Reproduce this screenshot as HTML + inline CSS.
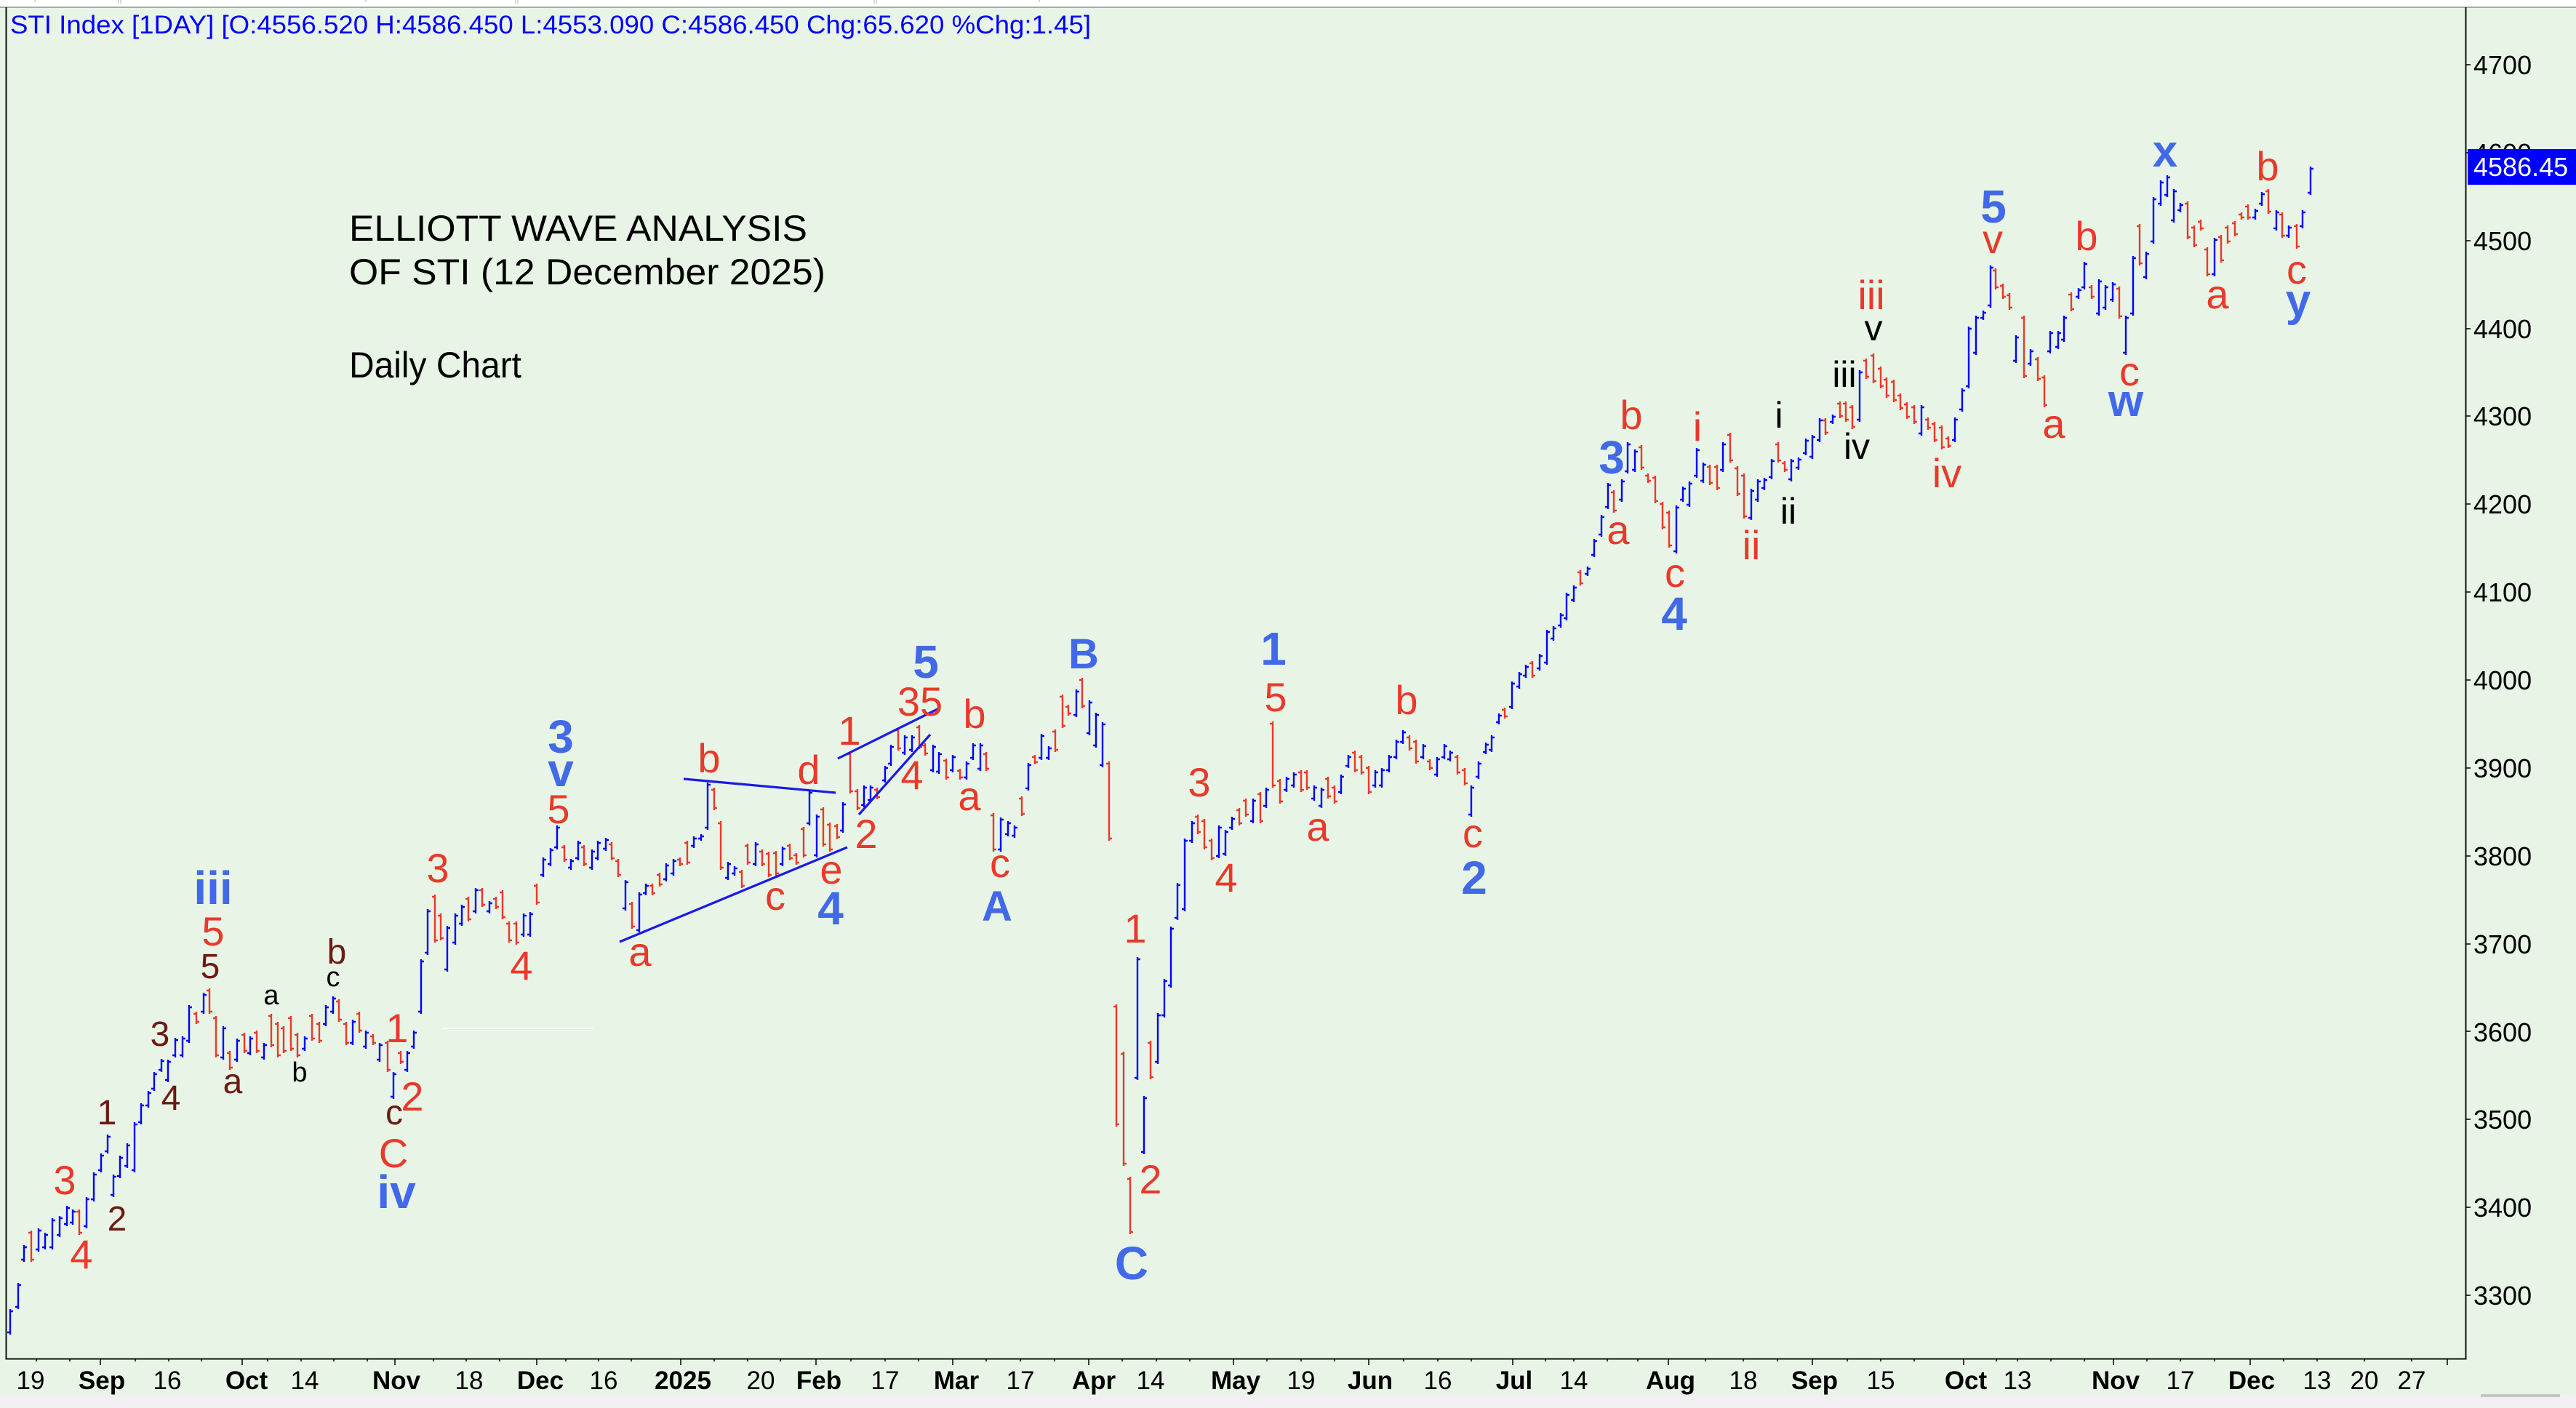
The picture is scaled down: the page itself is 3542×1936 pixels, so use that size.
<!DOCTYPE html>
<html>
<head>
<meta charset="utf-8">
<style>
html,body{margin:0;padding:0;background:#e8f4e6;}
body{width:3542px;height:1936px;overflow:hidden;}
svg{display:block;}
.B{font-weight:bold;font-size:64px;fill:#4169e8;text-anchor:middle;}
.Bs{font-weight:bold;font-size:58px;fill:#4169e8;text-anchor:middle;}
.Bx{font-weight:bold;font-size:62px;fill:#4169e8;text-anchor:middle;}
.R{font-size:56px;fill:#e8392a;text-anchor:middle;}
.Br{font-size:48px;fill:#6d1a12;text-anchor:middle;}
.k{font-size:38px;fill:#000;text-anchor:middle;}
.K{font-size:50px;fill:#000;text-anchor:middle;}
.yl{font-size:36px;fill:#000;}
.xd{font-size:35px;fill:#000;text-anchor:middle;}
.xm{font-size:35px;fill:#000;text-anchor:middle;font-weight:bold;}
</style>
</head>
<body>
<svg width="3542" height="1936" viewBox="0 0 3542 1936" xmlns="http://www.w3.org/2000/svg" font-family="'Liberation Sans', Arial, sans-serif">
<rect width="3542" height="1936" fill="#e8f4e6"/>
<rect width="3542" height="10" fill="#ffffff"/>
<path d="M48 0v3M163 0v5M166 0v5M503 0v3M709 0v5M712 0v5M1202 0v5M1205 0v5M1429 0v3" stroke="#b0b0b0" stroke-width="1"/>
<rect y="1917" width="3542" height="19" fill="#f0f0f0"/>
<rect x="3411" y="1917" width="109" height="4" fill="#c4c4c4"/>
<path d="M0 10H3542" stroke="#909090" stroke-width="1.5"/>
<path d="M8.5 10V1868.5H3390.5V10" fill="none" stroke="#111" stroke-width="2"/>

<!-- right axis ticks -->
<path d="M3390 89h7M3390 210h7M3390 331h7M3390 452h7M3390 572h7M3390 693h7M3390 814h7M3390 935h7M3390 1056h7M3390 1177h7M3390 1298h7M3390 1418h7M3390 1539h7M3390 1660h7M3390 1781h7" stroke="#000" stroke-width="1.5"/>
<g class="yl">
<text class="yl" x="3401" y="102">4700</text>
<text class="yl" x="3401" y="223">4600</text>
<text class="yl" x="3401" y="344">4500</text>
<text class="yl" x="3401" y="465">4400</text>
<text class="yl" x="3401" y="585">4300</text>
<text class="yl" x="3401" y="706">4200</text>
<text class="yl" x="3401" y="827">4100</text>
<text class="yl" x="3401" y="948">4000</text>
<text class="yl" x="3401" y="1069">3900</text>
<text class="yl" x="3401" y="1190">3800</text>
<text class="yl" x="3401" y="1311">3700</text>
<text class="yl" x="3401" y="1432">3600</text>
<text class="yl" x="3401" y="1552">3500</text>
<text class="yl" x="3401" y="1673">3400</text>
<text class="yl" x="3401" y="1794">3300</text>
</g>
<rect x="3393" y="205" width="149" height="49" fill="#0000ff"/>
<text x="3401" y="242" font-size="36" fill="#ffffff">4586.45</text>

<!-- bottom axis ticks -->
<path d="M50 1868v4M96 1868v4M186 1868v4M232 1868v4M277 1868v4M368 1868v4M414 1868v4M459 1868v4M505 1868v4M596 1868v4M641 1868v4M687 1868v4M778 1868v4M823 1868v4M868 1868v4M982 1868v4M1028 1868v4M1073 1868v4M1170 1868v4M1217 1868v4M1263 1868v4M1356 1868v4M1403 1868v4M1450 1868v4M1543 1868v4M1590 1868v4M1636 1868v4M1742 1868v4M1789 1868v4M1835 1868v4M1930 1868v4M1977 1868v4M2023 1868v4M2125 1868v4M2164 1868v4M2210 1868v4M2252 1868v4M2345 1868v4M2397 1868v4M2444 1868v4M2540 1868v4M2586 1868v4M2632 1868v4M2745 1868v4M2774 1868v4M2820 1868v4M2866 1868v4M2952 1868v4M2998 1868v4M3045 1868v4M3140 1868v4M3186 1868v4M3251 1868v4M3316 1868v4" stroke="#000" stroke-width="1.5"/>
<path d="M138 1868v9M333 1868v9M543 1868v9M738 1868v9M936 1868v9M1122 1868v9M1310 1868v9M1497 1868v9M1696 1868v9M1882 1868v9M2080 1868v9M2294 1868v9M2492 1868v9M2700 1868v9M2906 1868v9M3094 1868v9M3365 1868v9" stroke="#000" stroke-width="1.5"/>

<text class="xd" x="42" y="1910">19</text>
<text class="xm" x="140" y="1910">Sep</text>
<text class="xd" x="230" y="1910">16</text>
<text class="xm" x="339" y="1910">Oct</text>
<text class="xd" x="419" y="1910">14</text>
<text class="xm" x="545" y="1910">Nov</text>
<text class="xd" x="645" y="1910">18</text>
<text class="xm" x="743" y="1910">Dec</text>
<text class="xd" x="830" y="1910">16</text>
<text class="xm" x="939" y="1910">2025</text>
<text class="xd" x="1046" y="1910">20</text>
<text class="xm" x="1126" y="1910">Feb</text>
<text class="xd" x="1217" y="1910">17</text>
<text class="xm" x="1315" y="1910">Mar</text>
<text class="xd" x="1403" y="1910">17</text>
<text class="xm" x="1504" y="1910">Apr</text>
<text class="xd" x="1582" y="1910">14</text>
<text class="xm" x="1699" y="1910">May</text>
<text class="xd" x="1789" y="1910">19</text>
<text class="xm" x="1884" y="1910">Jun</text>
<text class="xd" x="1977" y="1910">16</text>
<text class="xm" x="2082" y="1910">Jul</text>
<text class="xd" x="2164" y="1910">14</text>
<text class="xm" x="2297" y="1910">Aug</text>
<text class="xd" x="2397" y="1910">18</text>
<text class="xm" x="2495" y="1910">Sep</text>
<text class="xd" x="2586" y="1910">15</text>
<text class="xm" x="2703" y="1910">Oct</text>
<text class="xd" x="2774" y="1910">13</text>
<text class="xm" x="2909" y="1910">Nov</text>
<text class="xd" x="2998" y="1910">17</text>
<text class="xm" x="3096" y="1910">Dec</text>
<text class="xd" x="3186" y="1910">13</text>
<text class="xd" x="3251" y="1910">20</text>
<text class="xd" x="3316" y="1910">27</text>

<!-- header text -->
<text x="14" y="46" font-size="35" fill="#0000ff" textLength="1486" lengthAdjust="spacingAndGlyphs">STI Index [1DAY] [O:4556.520 H:4586.450 L:4553.090 C:4586.450 Chg:65.620 %Chg:1.45]</text>
<text x="480" y="331" font-size="50" fill="#000" textLength="630" lengthAdjust="spacingAndGlyphs">ELLIOTT WAVE ANALYSIS</text>
<text x="480" y="391" font-size="50" fill="#000" textLength="655" lengthAdjust="spacingAndGlyphs">OF STI (12 December 2025)</text>
<text x="480" y="519" font-size="50" fill="#000" textLength="237" lengthAdjust="spacingAndGlyphs">Daily Chart</text>

<path d="M608 1414H815" stroke="#ffffff" stroke-width="2"/>

<!-- red bars -->
<path fill="none" stroke="#e8392a" stroke-width="2.4" d="M43 1692m-4 3h4m0-3V1735m0-3h4M109 1663m-4 3h4m0-3V1698m0-3h4M270 1391m-4 3h4m0-3V1408m0-3h4M288 1359m-4 3h4m0-3V1394m0-3h4M297 1397m-4 3h4m0-3V1454m0-3h4M316 1445m-4 3h4m0-3V1471m0-3h4M336 1420m-4 3h4m0-3V1448m0-3h4M353 1417m-4 3h4m0-3V1448m0-3h4M373 1394m-4 3h4m0-3V1440m0-3h4M382 1405m-4 3h4m0-3V1454m0-3h4M390 1411m-4 3h4m0-3V1448m0-3h4M400 1397m-4 3h4m0-3V1445m0-3h4M409 1420m-4 3h4m0-3V1454m0-3h4M429 1394m-4 3h4m0-3V1431m0-3h4M439 1405m-4 3h4m0-3V1434m0-3h4M466 1374m-4 3h4m0-3V1405m0-3h4M476 1405m-4 3h4m0-3V1437m0-3h4M494 1391m-4 3h4m0-3V1420m0-3h4M513 1422m-4 3h4m0-3V1437m0-3h4M533 1431m-4 3h4m0-3V1474m0-3h4M551 1445m-4 3h4m0-3V1463m0-3h4M598 1230m-4 3h4m0-3V1296m0-3h4M606 1256m-4 3h4m0-3V1293m0-3h4M644 1233m-4 3h4m0-3V1267m0-3h4M663 1221m-4 3h4m0-3V1247m0-3h4M682 1233m-4 3h4m0-3V1250m0-3h4M691 1224m-4 3h4m0-3V1264m0-3h4M700 1267m-4 3h4m0-3V1296m0-3h4M710 1267m-4 3h4m0-3V1299m0-3h4M738 1215m-4 3h4m0-3V1244m0-3h4M776 1162m-4 3h4m0-3V1185m0-3h4M803 1162m-4 3h4m0-3V1191m0-3h4M841 1158m-4 3h4m0-3V1183m0-3h4M850 1181m-4 3h4m0-3V1206m0-3h4M869 1240m-4 3h4m0-3V1277m0-3h4M897 1215m-4 3h4m0-3V1231m0-3h4M907 1200m-4 3h4m0-3V1219m0-3h4M935 1179m-4 3h4m0-3V1191m0-3h4M945 1156m-4 3h4m0-3V1189m0-3h4M982 1083m-4 3h4m0-3V1114m0-3h4M991 1129m-4 3h4m0-3V1196m0-3h4M1020 1196m-4 3h4m0-3V1221m0-3h4M1028 1160m-4 3h4m0-3V1189m0-3h4M1048 1168m-4 3h4m0-3V1191m0-3h4M1057 1171m-4 3h4m0-3V1206m0-3h4M1067 1170m-4 3h4m0-3V1204m0-3h4M1086 1160m-4 3h4m0-3V1183m0-3h4M1095 1173m-4 3h4m0-3V1189m0-3h4M1105 1137m-4 3h4m0-3V1179m0-3h4M1132 1110m-4 3h4m0-3V1164m0-3h4M1141 1131m-4 3h4m0-3V1171m0-3h4M1151 1133m-4 3h4m0-3V1154m0-3h4M1169 1034m-4 3h4m0-3V1091m0-3h4M1179 1085m-4 3h4m0-3V1114m0-3h4M1206 1083m-4 3h4m0-3V1099m0-3h4M1235 1001m-4 3h4m0-3V1032m0-3h4M1264 997m-4 3h4m0-3V1030m0-3h4M1272 1022m-4 3h4m0-3V1039m0-3h4M1301 1043m-4 3h4m0-3V1072m0-3h4M1320 1057m-4 3h4m0-3V1072m0-3h4M1356 1034m-4 3h4m0-3V1060m0-3h4M1366 1118m-4 3h4m0-3V1171m0-3h4M1405 1095m-4 3h4m0-3V1122m0-3h4M1423 1038m-4 3h4m0-3V1051m0-3h4M1451 1003m-4 3h4m0-3V1034m0-3h4M1461 955m-4 3h4m0-3V1001m0-3h4M1469 969m-4 3h4m0-3V984m0-3h4M1488 932m-4 3h4m0-3V974m0-3h4M1525 1047m-4 3h4m0-3V1156m0-3h4M1535 1381m-4 3h4m0-3V1549m0-3h4M1545 1446m-4 3h4m0-3V1603m0-3h4M1554 1618m-4 3h4m0-3V1697m0-3h4M1582 1431m-4 3h4m0-3V1484m0-3h4M1647 1120m-4 3h4m0-3V1147m0-3h4M1656 1126m-4 3h4m0-3V1168m0-3h4M1666 1153m-4 3h4m0-3V1183m0-3h4M1704 1111m-4 3h4m0-3V1135m0-3h4M1713 1098m-4 3h4m0-3V1123m0-3h4M1733 1089m-4 3h4m0-3V1132m0-3h4M1750 992m-4 3h4m0-3V1083m0-3h4M1760 1071m-4 3h4m0-3V1105m0-3h4M1789 1059m-4 3h4m0-3V1089m0-3h4M1797 1059m-4 3h4m0-3V1086m0-3h4M1826 1068m-4 3h4m0-3V1098m0-3h4M1835 1080m-4 3h4m0-3V1105m0-3h4M1863 1032m-4 3h4m0-3V1062m0-3h4M1872 1038m-4 3h4m0-3V1065m0-3h4M1882 1053m-4 3h4m0-3V1092m0-3h4M1938 1011m-4 3h4m0-3V1032m0-3h4M1947 1017m-4 3h4m0-3V1050m0-3h4M1966 1044m-4 3h4m0-3V1059m0-3h4M2004 1038m-4 3h4m0-3V1065m0-3h4M2014 1056m-4 3h4m0-3V1080m0-3h4M2069 973m-4 3h4m0-3V988m0-3h4M2107 909m-4 3h4m0-3V932m0-3h4M2173 784m-4 3h4m0-3V805m0-3h4M2219 674m-4 3h4m0-3V705m0-3h4M2257 612m-4 3h4m0-3V646m0-3h4M2266 651m-4 3h4m0-3V664m0-3h4M2276 654m-4 3h4m0-3V692m0-3h4M2286 690m-4 3h4m0-3V728m0-3h4M2295 702m-4 3h4m0-3V753m0-3h4M2351 639m-4 3h4m0-3V667m0-3h4M2361 639m-4 3h4m0-3V674m0-3h4M2379 595m-4 3h4m0-3V636m0-3h4M2389 641m-4 3h4m0-3V682m0-3h4M2398 651m-4 3h4m0-3V713m0-3h4M2445 608m-4 3h4m0-3V636m0-3h4M2454 634m-4 3h4m0-3V649m0-3h4M2510 575m-4 3h4m0-3V598m0-3h4M2530 552m-4 3h4m0-3V575m0-3h4M2538 552m-4 3h4m0-3V580m0-3h4M2547 557m-4 3h4m0-3V590m0-3h4M2566 493m-4 3h4m0-3V521m0-3h4M2576 486m-4 3h4m0-3V527m0-3h4M2586 504m-4 3h4m0-3V534m0-3h4M2594 519m-4 3h4m0-3V547m0-3h4M2604 522m-4 3h4m0-3V553m0-3h4M2613 541m-4 3h4m0-3V564m0-3h4M2622 553m-4 3h4m0-3V576m0-3h4M2632 557m-4 3h4m0-3V583m0-3h4M2651 574m-4 3h4m0-3V591m0-3h4M2660 580m-4 3h4m0-3V608m0-3h4M2670 585m-4 3h4m0-3V618m0-3h4M2679 600m-4 3h4m0-3V616m0-3h4M2744 369m-4 3h4m0-3V398m0-3h4M2754 390m-4 3h4m0-3V411m0-3h4M2763 403m-4 3h4m0-3V426m0-3h4M2783 434m-4 3h4m0-3V520m0-3h4M2802 491m-4 3h4m0-3V524m0-3h4M2811 516m-4 3h4m0-3V560m0-3h4M2848 402m-4 3h4m0-3V428m0-3h4M2876 392m-4 3h4m0-3V411m0-3h4M2914 394m-4 3h4m0-3V438m0-3h4M2942 308m-4 3h4m0-3V365m0-3h4M3008 277m-4 3h4m0-3V329m0-3h4M3017 310m-4 3h4m0-3V340m0-3h4M3026 302m-4 3h4m0-3V317m0-3h4M3035 340m-4 3h4m0-3V380m0-3h4M3054 323m-4 3h4m0-3V361m0-3h4M3063 310m-4 3h4m0-3V335m0-3h4M3073 304m-4 3h4m0-3V325m0-3h4M3082 292m-4 3h4m0-3V302m0-3h4M3091 281m-4 3h4m0-3V302m0-3h4M3119 260m-4 3h4m0-3V294m0-3h4M3138 292m-4 3h4m0-3V327m0-3h4M3158 308m-4 3h4m0-3V342m0-3h4"/>

<!-- blue bars -->
<path fill="none" stroke="#0000ff" stroke-width="2.4" d="M14 1835m-4-3h4m0 3V1800m0 3h4M25 1800m-4-3h4m0 3V1764m0 3h4M33 1735m-4-3h4m0 3V1712m0 3h4M53 1721m-4-3h4m0 3V1689m0 3h4M62 1718m-4-3h4m0 3V1695m0 3h4M72 1718m-4-3h4m0 3V1675m0 3h4M82 1701m-4-3h4m0 3V1672m0 3h4M92 1686m-4-3h4m0 3V1658m0 3h4M100 1684m-4-3h4m0 3V1663m0 3h4M119 1689m-4-3h4m0 3V1646m0 3h4M129 1652m-4-3h4m0 3V1612m0 3h4M139 1612m-4-3h4m0 3V1586m0 3h4M148 1586m-4-3h4m0 3V1560m0 3h4M156 1646m-4-3h4m0 3V1615m0 3h4M165 1620m-4-3h4m0 3V1589m0 3h4M175 1606m-4-3h4m0 3V1572m0 3h4M185 1612m-4-3h4m0 3V1543m0 3h4M194 1546m-4-3h4m0 3V1517m0 3h4M204 1523m-4-3h4m0 3V1500m0 3h4M212 1500m-4-3h4m0 3V1474m0 3h4M222 1474m-4-3h4m0 3V1456m0 3h4M231 1488m-4-3h4m0 3V1457m0 3h4M241 1454m-4-3h4m0 3V1427m0 3h4M251 1454m-4-3h4m0 3V1425m0 3h4M260 1434m-4-3h4m0 3V1382m0 3h4M280 1394m-4-3h4m0 3V1365m0 3h4M307 1457m-4-3h4m0 3V1411m0 3h4M326 1460m-4-3h4m0 3V1428m0 3h4M344 1451m-4-3h4m0 3V1425m0 3h4M363 1457m-4-3h4m0 3V1434m0 3h4M419 1445m-4-3h4m0 3V1425m0 3h4M448 1411m-4-3h4m0 3V1382m0 3h4M458 1394m-4-3h4m0 3V1370m0 3h4M485 1437m-4-3h4m0 3V1402m0 3h4M503 1442m-4-3h4m0 3V1417m0 3h4M522 1460m-4-3h4m0 3V1434m0 3h4M541 1511m-4-3h4m0 3V1474m0 3h4M560 1474m-4-3h4m0 3V1445m0 3h4M569 1442m-4-3h4m0 3V1417m0 3h4M579 1394m-4-3h4m0 3V1319m0 3h4M588 1313m-4-3h4m0 3V1250m0 3h4M615 1336m-4-3h4m0 3V1273m0 3h4M626 1299m-4-3h4m0 3V1256m0 3h4M635 1273m-4-3h4m0 3V1244m0 3h4M654 1256m-4-3h4m0 3V1221m0 3h4M673 1256m-4-3h4m0 3V1239m0 3h4M720 1288m-4-3h4m0 3V1256m0 3h4M729 1288m-4-3h4m0 3V1254m0 3h4M747 1206m-4-3h4m0 3V1179m0 3h4M757 1191m-4-3h4m0 3V1166m0 3h4M766 1168m-4-3h4m0 3V1135m0 3h4M785 1196m-4-3h4m0 3V1181m0 3h4M795 1183m-4-3h4m0 3V1156m0 3h4M814 1196m-4-3h4m0 3V1168m0 3h4M822 1183m-4-3h4m0 3V1156m0 3h4M833 1170m-4-3h4m0 3V1152m0 3h4M860 1252m-4-3h4m0 3V1210m0 3h4M879 1282m-4-3h4m0 3V1227m0 3h4M888 1231m-4-3h4m0 3V1215m0 3h4M916 1212m-4-3h4m0 3V1187m0 3h4M926 1204m-4-3h4m0 3V1181m0 3h4M954 1166m-4-3h4m0 3V1150m0 3h4M964 1156m-4-3h4m0 3V1147m0 3h4M973 1141m-4-3h4m0 3V1076m0 3h4M1001 1210m-4-3h4m0 3V1185m0 3h4M1010 1204m-4-3h4m0 3V1191m0 3h4M1039 1191m-4-3h4m0 3V1158m0 3h4M1076 1191m-4-3h4m0 3V1164m0 3h4M1113 1135m-4-3h4m0 3V1087m0 3h4M1123 1179m-4-3h4m0 3V1120m0 3h4M1159 1145m-4-3h4m0 3V1103m0 3h4M1188 1110m-4-3h4m0 3V1080m0 3h4M1197 1103m-4-3h4m0 3V1080m0 3h4M1217 1076m-4-3h4m0 3V1053m0 3h4M1225 1053m-4-3h4m0 3V1024m0 3h4M1244 1038m-4-3h4m0 3V1011m0 3h4M1254 1034m-4-3h4m0 3V1011m0 3h4M1283 1062m-4-3h4m0 3V1024m0 3h4M1291 1064m-4-3h4m0 3V1034m0 3h4M1310 1062m-4-3h4m0 3V1038m0 3h4M1329 1072m-4-3h4m0 3V1047m0 3h4M1338 1045m-4-3h4m0 3V1022m0 3h4M1348 1060m-4-3h4m0 3V1022m0 3h4M1376 1171m-4-3h4m0 3V1124m0 3h4M1386 1150m-4-3h4m0 3V1129m0 3h4M1395 1152m-4-3h4m0 3V1135m0 3h4M1414 1087m-4-3h4m0 3V1049m0 3h4M1432 1045m-4-3h4m0 3V1009m0 3h4M1442 1045m-4-3h4m0 3V1026m0 3h4M1480 986m-4-3h4m0 3V948m0 3h4M1498 1011m-4-3h4m0 3V963m0 3h4M1507 1028m-4-3h4m0 3V980m0 3h4M1516 1055m-4-3h4m0 3V993m0 3h4M1564 1485m-4-3h4m0 3V1316m0 3h4M1573 1587m-4-3h4m0 3V1507m0 3h4M1592 1463m-4-3h4m0 3V1393m0 3h4M1601 1399m-4-3h4m0 3V1346m0 3h4M1610 1358m-4-3h4m0 3V1274m0 3h4M1619 1265m-4-3h4m0 3V1214m0 3h4M1629 1253m-4-3h4m0 3V1153m0 3h4M1639 1159m-4-3h4m0 3V1129m0 3h4M1676 1180m-4-3h4m0 3V1135m0 3h4M1685 1177m-4-3h4m0 3V1141m0 3h4M1694 1141m-4-3h4m0 3V1123m0 3h4M1723 1132m-4-3h4m0 3V1098m0 3h4M1741 1111m-4-3h4m0 3V1083m0 3h4M1769 1089m-4-3h4m0 3V1068m0 3h4M1779 1083m-4-3h4m0 3V1062m0 3h4M1807 1101m-4-3h4m0 3V1080m0 3h4M1817 1111m-4-3h4m0 3V1083m0 3h4M1844 1092m-4-3h4m0 3V1065m0 3h4M1854 1056m-4-3h4m0 3V1038m0 3h4M1891 1083m-4-3h4m0 3V1059m0 3h4M1900 1083m-4-3h4m0 3V1056m0 3h4M1910 1062m-4-3h4m0 3V1038m0 3h4M1920 1044m-4-3h4m0 3V1017m0 3h4M1929 1023m-4-3h4m0 3V1004m0 3h4M1957 1044m-4-3h4m0 3V1023m0 3h4M1976 1068m-4-3h4m0 3V1041m0 3h4M1986 1044m-4-3h4m0 3V1023m0 3h4M1994 1047m-4-3h4m0 3V1032m0 3h4M2023 1123m-4-3h4m0 3V1080m0 3h4M2033 1071m-4-3h4m0 3V1047m0 3h4M2043 1037m-4-3h4m0 3V1021m0 3h4M2051 1034m-4-3h4m0 3V1011m0 3h4M2061 996m-4-3h4m0 3V981m0 3h4M2079 975m-4-3h4m0 3V937m0 3h4M2089 947m-4-3h4m0 3V924m0 3h4M2098 932m-4-3h4m0 3V914m0 3h4M2117 922m-4-3h4m0 3V899m0 3h4M2127 914m-4-3h4m0 3V866m0 3h4M2136 881m-4-3h4m0 3V861m0 3h4M2146 863m-4-3h4m0 3V843m0 3h4M2154 853m-4-3h4m0 3V815m0 3h4M2164 828m-4-3h4m0 3V805m0 3h4M2183 792m-4-3h4m0 3V779m0 3h4M2192 766m-4-3h4m0 3V741m0 3h4M2202 738m-4-3h4m0 3V708m0 3h4M2211 700m-4-3h4m0 3V664m0 3h4M2230 690m-4-3h4m0 3V659m0 3h4M2238 651m-4-3h4m0 3V608m0 3h4M2248 649m-4-3h4m0 3V618m0 3h4M2305 761m-4-3h4m0 3V695m0 3h4M2314 690m-4-3h4m0 3V669m0 3h4M2323 697m-4-3h4m0 3V662m0 3h4M2333 657m-4-3h4m0 3V616m0 3h4M2342 664m-4-3h4m0 3V636m0 3h4M2369 649m-4-3h4m0 3V608m0 3h4M2408 715m-4-3h4m0 3V672m0 3h4M2417 690m-4-3h4m0 3V659m0 3h4M2426 674m-4-3h4m0 3V657m0 3h4M2436 659m-4-3h4m0 3V631m0 3h4M2463 662m-4-3h4m0 3V631m0 3h4M2473 646m-4-3h4m0 3V629m0 3h4M2483 626m-4-3h4m0 3V603m0 3h4M2492 631m-4-3h4m0 3V598m0 3h4M2502 608m-4-3h4m0 3V575m0 3h4M2520 583m-4-3h4m0 3V570m0 3h4M2557 580m-4-3h4m0 3V509m0 3h4M2642 599m-4-3h4m0 3V557m0 3h4M2688 608m-4-3h4m0 3V574m0 3h4M2698 566m-4-3h4m0 3V534m0 3h4M2707 534m-4-3h4m0 3V449m0 3h4M2717 488m-4-3h4m0 3V434m0 3h4M2727 440m-4-3h4m0 3V427m0 3h4M2737 423m-4-3h4m0 3V365m0 3h4M2772 499m-4-3h4m0 3V461m0 3h4M2792 503m-4-3h4m0 3V480m0 3h4M2819 486m-4-3h4m0 3V455m0 3h4M2830 480m-4-3h4m0 3V455m0 3h4M2838 470m-4-3h4m0 3V434m0 3h4M2858 411m-4-3h4m0 3V396m0 3h4M2866 398m-4-3h4m0 3V360m0 3h4M2886 434m-4-3h4m0 3V384m0 3h4M2895 426m-4-3h4m0 3V392m0 3h4M2905 415m-4-3h4m0 3V388m0 3h4M2923 488m-4-3h4m0 3V434m0 3h4M2933 434m-4-3h4m0 3V352m0 3h4M2951 384m-4-3h4m0 3V346m0 3h4M2961 335m-4-3h4m0 3V271m0 3h4M2971 283m-4-3h4m0 3V248m0 3h4M2980 271m-4-3h4m0 3V241m0 3h4M2989 306m-4-3h4m0 3V260m0 3h4M2998 292m-4-3h4m0 3V279m0 3h4M3045 380m-4-3h4m0 3V327m0 3h4M3101 302m-4-3h4m0 3V287m0 3h4M3110 283m-4-3h4m0 3V264m0 3h4M3130 317m-4-3h4m0 3V289m0 3h4M3147 327m-4-3h4m0 3V310m0 3h4M3166 314m-4-3h4m0 3V289m0 3h4M3177 268m-4-3h4m0 3V229m0 3h4"/>

<!-- trendlines -->
<path d="M852 1295L1165 1165M940 1071L1149 1090M1152 1043L1291 974M1181 1120L1279 1010" stroke="#1a1ae6" stroke-width="3.2" fill="none"/>

<!-- blue wave labels -->
<text class="B" x="293" y="1243">iii</text>
<text class="B" x="545" y="1661">iv</text>
<text class="B" x="771" y="1035">3</text>
<text class="B" x="771" y="1081">v</text>
<text class="B" x="1142" y="1271">4</text>
<text class="B" x="1273" y="932">5</text>
<text class="Bs" x="1371" y="1266">A</text>
<text class="Bs" x="1490" y="919">B</text>
<text class="B" x="1556" y="1759">C</text>
<text class="B" x="1751" y="914">1</text>
<text class="B" x="2027" y="1229">2</text>
<text class="B" x="2216" y="651">3</text>
<text class="B" x="2302" y="866">4</text>
<text class="B" x="2741" y="306">5</text>
<text class="Bx" x="2923" y="572">w</text>
<text class="Bx" x="2977" y="229">x</text>
<text class="Bx" x="3160" y="434">y</text>

<!-- red wave labels -->
<text class="R" x="89" y="1642">3</text>
<text class="R" x="112" y="1744">4</text>
<text class="R" x="293" y="1300">5</text>
<text class="R" x="546" y="1433">1</text>
<text class="R" x="567" y="1527">2</text>
<text class="R" x="541" y="1605">C</text>
<text class="R" x="602" y="1213">3</text>
<text class="R" x="717" y="1347">4</text>
<text class="R" x="768" y="1132">5</text>
<text class="R" x="880" y="1328">a</text>
<text class="R" x="975" y="1062">b</text>
<text class="R" x="1066" y="1251">c</text>
<text class="R" x="1112" y="1078">d</text>
<text class="R" x="1143" y="1215">e</text>
<text class="R" x="1168" y="1024">1</text>
<text class="R" x="1191" y="1166">2</text>
<text class="R" x="1265" y="984">35</text>
<text class="R" x="1254" y="1085">4</text>
<text class="R" x="1340" y="1001">b</text>
<text class="R" x="1333" y="1114">a</text>
<text class="R" x="1375" y="1206">c</text>
<text class="R" x="1561" y="1296">1</text>
<text class="R" x="1582" y="1641">2</text>
<text class="R" x="1649" y="1095">3</text>
<text class="R" x="1686" y="1226">4</text>
<text class="R" x="1754" y="978">5</text>
<text class="R" x="1812" y="1156">a</text>
<text class="R" x="1934" y="982">b</text>
<text class="R" x="2025" y="1165">c</text>
<text class="R" x="2225" y="748">a</text>
<text class="R" x="2243" y="590">b</text>
<text class="R" x="2303" y="807">c</text>
<text class="R" x="2334" y="606">i</text>
<text class="R" x="2408" y="769">ii</text>
<text class="R" x="2573" y="425">iii</text>
<text class="R" x="2677" y="670">iv</text>
<text class="R" x="2740" y="348">v</text>
<text class="R" x="2824" y="602">a</text>
<text class="R" x="2869" y="344">b</text>
<text class="R" x="2928" y="530">c</text>
<text class="R" x="3049" y="424">a</text>
<text class="R" x="3118" y="248">b</text>
<text class="R" x="3158" y="390">c</text>

<!-- brown labels -->
<text class="Br" x="147" y="1546">1</text>
<text class="Br" x="161" y="1692">2</text>
<text class="Br" x="220" y="1438">3</text>
<text class="Br" x="235" y="1526">4</text>
<text class="Br" x="289" y="1345">5</text>
<text class="Br" x="320" y="1503">a</text>
<text class="Br" x="463" y="1325">b</text>
<text class="Br" x="542" y="1546">c</text>

<!-- black labels -->
<text class="k" x="373" y="1381">a</text>
<text class="k" x="412" y="1487">b</text>
<text class="k" x="458" y="1356">c</text>
<text class="K" x="2446" y="588">i</text>
<text class="K" x="2459" y="720">ii</text>
<text class="K" x="2536" y="532">iii</text>
<text class="K" x="2553" y="631">iv</text>
<text class="K" x="2576" y="468">v</text>
</svg>
</body>
</html>
